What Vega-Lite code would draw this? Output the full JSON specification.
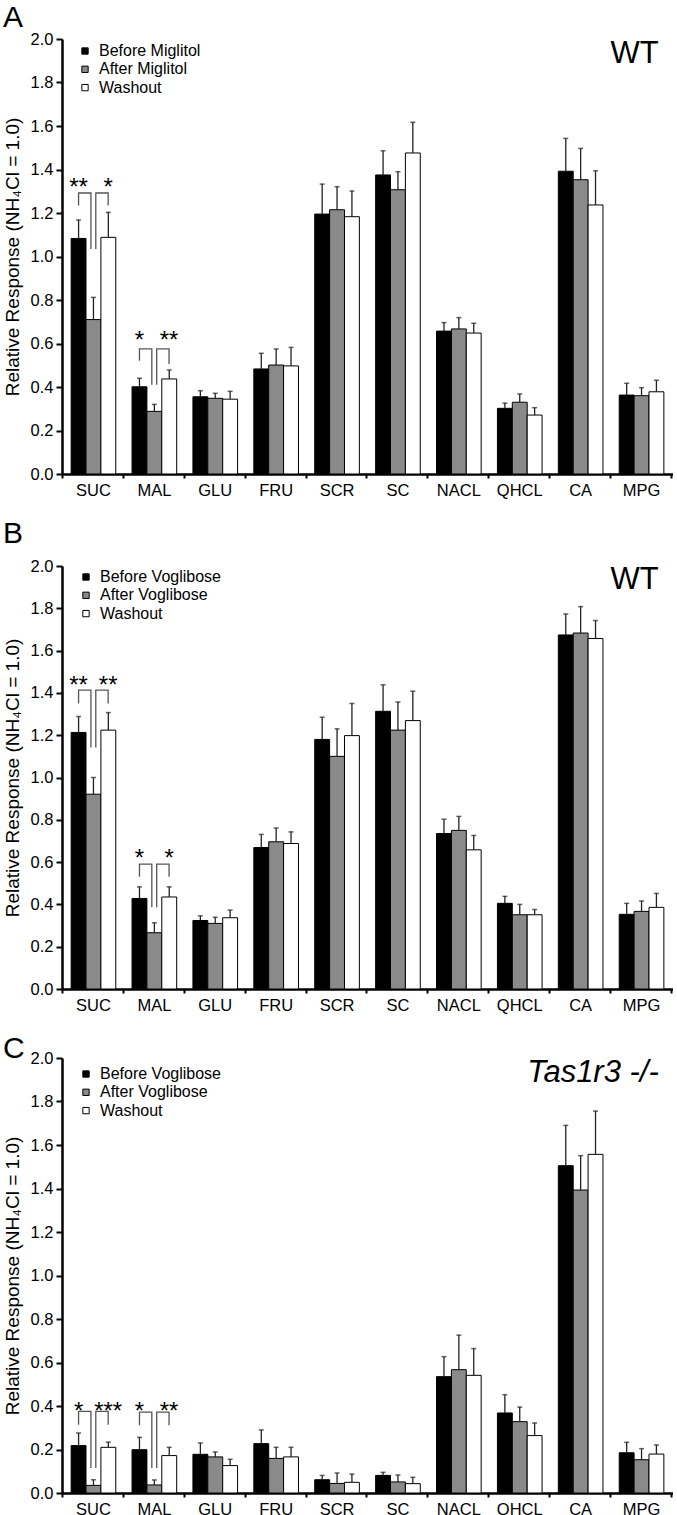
{
  "$schema": "https://vega.github.io/schema/vega-lite/v6.json",
  "padding": {"left": 3, "top": 3, "right": 0, "bottom": 0},
  "background": "white",
  "config": {
    "font": "Liberation Sans",
    "view": {"stroke": null},
    "axis": {"grid": false, "domainColor": "black", "tickColor": "black", "labelColor": "black", "titleColor": "black", "labelFontSize": 16.5, "titleFontWeight": "normal"},
    "axisY": {"tickSize": 6, "tickWidth": 2, "domainWidth": 2.5, "labelPadding": 3, "titleFontSize": 19, "titlePadding": 8, "format": ".1f"},
    "legend": {"orient": "none", "title": null, "symbolType": "square", "symbolSize": 40, "symbolStrokeColor": "black", "symbolStrokeWidth": 1, "labelFontSize": 16, "labelOffset": 6, "rowPadding": 2.3, "padding": 0, "labelColor": "black"},
    "title": {"fontSize": 30, "fontWeight": "normal", "anchor": "start", "frame": "group", "dx": -59, "color": "black"}
  },
  "datasets": {
    "A": [
      {"cat": "SUC", "cond": "Before", "label": "Before Miglitol", "v": 1.083, "hi": 1.168},
      {"cat": "SUC", "cond": "After", "label": "After Miglitol", "v": 0.71, "hi": 0.812},
      {"cat": "SUC", "cond": "Washout", "label": "Washout", "v": 1.088, "hi": 1.203},
      {"cat": "MAL", "cond": "Before", "label": "Before Miglitol", "v": 0.401, "hi": 0.44},
      {"cat": "MAL", "cond": "After", "label": "After Miglitol", "v": 0.288, "hi": 0.32},
      {"cat": "MAL", "cond": "Washout", "label": "Washout", "v": 0.437, "hi": 0.478},
      {"cat": "GLU", "cond": "Before", "label": "Before Miglitol", "v": 0.355, "hi": 0.383},
      {"cat": "GLU", "cond": "After", "label": "After Miglitol", "v": 0.348, "hi": 0.371},
      {"cat": "GLU", "cond": "Washout", "label": "Washout", "v": 0.344, "hi": 0.38},
      {"cat": "FRU", "cond": "Before", "label": "Before Miglitol", "v": 0.483, "hi": 0.555},
      {"cat": "FRU", "cond": "After", "label": "After Miglitol", "v": 0.501, "hi": 0.575},
      {"cat": "FRU", "cond": "Washout", "label": "Washout", "v": 0.497, "hi": 0.582},
      {"cat": "SCR", "cond": "Before", "label": "Before Miglitol", "v": 1.195, "hi": 1.333},
      {"cat": "SCR", "cond": "After", "label": "After Miglitol", "v": 1.215, "hi": 1.321},
      {"cat": "SCR", "cond": "Washout", "label": "Washout", "v": 1.183, "hi": 1.301},
      {"cat": "SC", "cond": "Before", "label": "Before Miglitol", "v": 1.375, "hi": 1.486},
      {"cat": "SC", "cond": "After", "label": "After Miglitol", "v": 1.307, "hi": 1.39},
      {"cat": "SC", "cond": "Washout", "label": "Washout", "v": 1.476, "hi": 1.617},
      {"cat": "NACL", "cond": "Before", "label": "Before Miglitol", "v": 0.657, "hi": 0.696},
      {"cat": "NACL", "cond": "After", "label": "After Miglitol", "v": 0.667, "hi": 0.719},
      {"cat": "NACL", "cond": "Washout", "label": "Washout", "v": 0.648, "hi": 0.693},
      {"cat": "QHCL", "cond": "Before", "label": "Before Miglitol", "v": 0.302, "hi": 0.326},
      {"cat": "QHCL", "cond": "After", "label": "After Miglitol", "v": 0.33, "hi": 0.368},
      {"cat": "QHCL", "cond": "Washout", "label": "Washout", "v": 0.271, "hi": 0.305},
      {"cat": "CA", "cond": "Before", "label": "Before Miglitol", "v": 1.392, "hi": 1.543},
      {"cat": "CA", "cond": "After", "label": "After Miglitol", "v": 1.353, "hi": 1.497},
      {"cat": "CA", "cond": "Washout", "label": "Washout", "v": 1.237, "hi": 1.394},
      {"cat": "MPG", "cond": "Before", "label": "Before Miglitol", "v": 0.363, "hi": 0.417},
      {"cat": "MPG", "cond": "After", "label": "After Miglitol", "v": 0.36, "hi": 0.397},
      {"cat": "MPG", "cond": "Washout", "label": "Washout", "v": 0.378, "hi": 0.431}
    ],
    "B": [
      {"cat": "SUC", "cond": "Before", "label": "Before Voglibose", "v": 1.213, "hi": 1.288},
      {"cat": "SUC", "cond": "After", "label": "After Voglibose", "v": 0.921, "hi": 1.0},
      {"cat": "SUC", "cond": "Washout", "label": "Washout", "v": 1.224, "hi": 1.307},
      {"cat": "MAL", "cond": "Before", "label": "Before Voglibose", "v": 0.428, "hi": 0.483},
      {"cat": "MAL", "cond": "After", "label": "After Voglibose", "v": 0.266, "hi": 0.313},
      {"cat": "MAL", "cond": "Washout", "label": "Washout", "v": 0.435, "hi": 0.483},
      {"cat": "GLU", "cond": "Before", "label": "Before Voglibose", "v": 0.324, "hi": 0.346},
      {"cat": "GLU", "cond": "After", "label": "After Voglibose", "v": 0.31, "hi": 0.339},
      {"cat": "GLU", "cond": "Washout", "label": "Washout", "v": 0.337, "hi": 0.373},
      {"cat": "FRU", "cond": "Before", "label": "Before Voglibose", "v": 0.669, "hi": 0.731},
      {"cat": "FRU", "cond": "After", "label": "After Voglibose", "v": 0.696, "hi": 0.761},
      {"cat": "FRU", "cond": "Washout", "label": "Washout", "v": 0.688, "hi": 0.743},
      {"cat": "SCR", "cond": "Before", "label": "Before Voglibose", "v": 1.18, "hi": 1.285},
      {"cat": "SCR", "cond": "After", "label": "After Voglibose", "v": 1.1, "hi": 1.23},
      {"cat": "SCR", "cond": "Washout", "label": "Washout", "v": 1.198, "hi": 1.35},
      {"cat": "SC", "cond": "Before", "label": "Before Voglibose", "v": 1.313, "hi": 1.438},
      {"cat": "SC", "cond": "After", "label": "After Voglibose", "v": 1.224, "hi": 1.357},
      {"cat": "SC", "cond": "Washout", "label": "Washout", "v": 1.269, "hi": 1.408},
      {"cat": "NACL", "cond": "Before", "label": "Before Voglibose", "v": 0.735, "hi": 0.803},
      {"cat": "NACL", "cond": "After", "label": "After Voglibose", "v": 0.75, "hi": 0.816},
      {"cat": "NACL", "cond": "Washout", "label": "Washout", "v": 0.658, "hi": 0.726},
      {"cat": "QHCL", "cond": "Before", "label": "Before Voglibose", "v": 0.405, "hi": 0.438},
      {"cat": "QHCL", "cond": "After", "label": "After Voglibose", "v": 0.351, "hi": 0.4},
      {"cat": "QHCL", "cond": "Washout", "label": "Washout", "v": 0.351, "hi": 0.376},
      {"cat": "CA", "cond": "Before", "label": "Before Voglibose", "v": 1.674, "hi": 1.773},
      {"cat": "CA", "cond": "After", "label": "After Voglibose", "v": 1.683, "hi": 1.808},
      {"cat": "CA", "cond": "Washout", "label": "Washout", "v": 1.657, "hi": 1.742},
      {"cat": "MPG", "cond": "Before", "label": "Before Voglibose", "v": 0.353, "hi": 0.405},
      {"cat": "MPG", "cond": "After", "label": "After Voglibose", "v": 0.367, "hi": 0.416},
      {"cat": "MPG", "cond": "Washout", "label": "Washout", "v": 0.386, "hi": 0.452}
    ],
    "C": [
      {"cat": "SUC", "cond": "Before", "label": "Before Voglibose", "v": 0.218, "hi": 0.276},
      {"cat": "SUC", "cond": "After", "label": "After Voglibose", "v": 0.035, "hi": 0.061},
      {"cat": "SUC", "cond": "Washout", "label": "Washout", "v": 0.21, "hi": 0.234},
      {"cat": "MAL", "cond": "Before", "label": "Before Voglibose", "v": 0.199, "hi": 0.256},
      {"cat": "MAL", "cond": "After", "label": "After Voglibose", "v": 0.037, "hi": 0.06},
      {"cat": "MAL", "cond": "Washout", "label": "Washout", "v": 0.172, "hi": 0.21},
      {"cat": "GLU", "cond": "Before", "label": "Before Voglibose", "v": 0.178, "hi": 0.23},
      {"cat": "GLU", "cond": "After", "label": "After Voglibose", "v": 0.166, "hi": 0.189},
      {"cat": "GLU", "cond": "Washout", "label": "Washout", "v": 0.126, "hi": 0.155},
      {"cat": "FRU", "cond": "Before", "label": "Before Voglibose", "v": 0.227, "hi": 0.29},
      {"cat": "FRU", "cond": "After", "label": "After Voglibose", "v": 0.159, "hi": 0.21},
      {"cat": "FRU", "cond": "Washout", "label": "Washout", "v": 0.166, "hi": 0.21},
      {"cat": "SCR", "cond": "Before", "label": "Before Voglibose", "v": 0.061, "hi": 0.081},
      {"cat": "SCR", "cond": "After", "label": "After Voglibose", "v": 0.044, "hi": 0.092},
      {"cat": "SCR", "cond": "Washout", "label": "Washout", "v": 0.049, "hi": 0.087},
      {"cat": "SC", "cond": "Before", "label": "Before Voglibose", "v": 0.081, "hi": 0.095},
      {"cat": "SC", "cond": "After", "label": "After Voglibose", "v": 0.051, "hi": 0.083},
      {"cat": "SC", "cond": "Washout", "label": "Washout", "v": 0.043, "hi": 0.072},
      {"cat": "NACL", "cond": "Before", "label": "Before Voglibose", "v": 0.535, "hi": 0.627},
      {"cat": "NACL", "cond": "After", "label": "After Voglibose", "v": 0.567, "hi": 0.726},
      {"cat": "NACL", "cond": "Washout", "label": "Washout", "v": 0.541, "hi": 0.664},
      {"cat": "QHCL", "cond": "Before", "label": "Before Voglibose", "v": 0.368, "hi": 0.452},
      {"cat": "QHCL", "cond": "After", "label": "After Voglibose", "v": 0.328, "hi": 0.395},
      {"cat": "QHCL", "cond": "Washout", "label": "Washout", "v": 0.264, "hi": 0.322},
      {"cat": "CA", "cond": "Before", "label": "Before Voglibose", "v": 1.505, "hi": 1.69},
      {"cat": "CA", "cond": "After", "label": "After Voglibose", "v": 1.393, "hi": 1.551},
      {"cat": "CA", "cond": "Washout", "label": "Washout", "v": 1.557, "hi": 1.756},
      {"cat": "MPG", "cond": "Before", "label": "Before Voglibose", "v": 0.185, "hi": 0.233},
      {"cat": "MPG", "cond": "After", "label": "After Voglibose", "v": 0.153, "hi": 0.204},
      {"cat": "MPG", "cond": "Washout", "label": "Washout", "v": 0.179, "hi": 0.221}
    ],
    "brA": [
      {"b": 1, "k": 1, "x": 0.272, "y": 1.234}, {"b": 1, "k": 2, "x": 0.272, "y": 1.292}, {"b": 1, "k": 3, "x": 0.475, "y": 1.292}, {"b": 1, "k": 4, "x": 0.475, "y": 1.034},
      {"b": 2, "k": 1, "x": 0.555, "y": 1.034}, {"b": 2, "k": 2, "x": 0.555, "y": 1.292}, {"b": 2, "k": 3, "x": 0.758, "y": 1.292}, {"b": 2, "k": 4, "x": 0.758, "y": 1.234},
      {"b": 3, "k": 1, "x": 1.272, "y": 0.521}, {"b": 3, "k": 2, "x": 1.272, "y": 0.575}, {"b": 3, "k": 3, "x": 1.475, "y": 0.575}, {"b": 3, "k": 4, "x": 1.475, "y": 0.41},
      {"b": 4, "k": 1, "x": 1.555, "y": 0.41}, {"b": 4, "k": 2, "x": 1.555, "y": 0.575}, {"b": 4, "k": 3, "x": 1.758, "y": 0.575}, {"b": 4, "k": 4, "x": 1.758, "y": 0.506}
    ],
    "brB": [
      {"b": 1, "k": 1, "x": 0.272, "y": 1.35}, {"b": 1, "k": 2, "x": 0.272, "y": 1.413}, {"b": 1, "k": 3, "x": 0.475, "y": 1.413}, {"b": 1, "k": 4, "x": 0.475, "y": 1.142},
      {"b": 2, "k": 1, "x": 0.555, "y": 1.142}, {"b": 2, "k": 2, "x": 0.555, "y": 1.413}, {"b": 2, "k": 3, "x": 0.758, "y": 1.413}, {"b": 2, "k": 4, "x": 0.758, "y": 1.35},
      {"b": 3, "k": 1, "x": 1.272, "y": 0.531}, {"b": 3, "k": 2, "x": 1.272, "y": 0.59}, {"b": 3, "k": 3, "x": 1.475, "y": 0.59}, {"b": 3, "k": 4, "x": 1.475, "y": 0.386},
      {"b": 4, "k": 1, "x": 1.555, "y": 0.386}, {"b": 4, "k": 2, "x": 1.555, "y": 0.59}, {"b": 4, "k": 3, "x": 1.758, "y": 0.59}, {"b": 4, "k": 4, "x": 1.758, "y": 0.531}
    ],
    "brC": [
      {"b": 1, "k": 1, "x": 0.272, "y": 0.314}, {"b": 1, "k": 2, "x": 0.272, "y": 0.375}, {"b": 1, "k": 3, "x": 0.475, "y": 0.375}, {"b": 1, "k": 4, "x": 0.475, "y": 0.115},
      {"b": 2, "k": 1, "x": 0.555, "y": 0.115}, {"b": 2, "k": 2, "x": 0.555, "y": 0.375}, {"b": 2, "k": 3, "x": 0.758, "y": 0.375}, {"b": 2, "k": 4, "x": 0.758, "y": 0.314},
      {"b": 3, "k": 1, "x": 1.272, "y": 0.311}, {"b": 3, "k": 2, "x": 1.272, "y": 0.372}, {"b": 3, "k": 3, "x": 1.475, "y": 0.372}, {"b": 3, "k": 4, "x": 1.475, "y": 0.115},
      {"b": 4, "k": 1, "x": 1.555, "y": 0.115}, {"b": 4, "k": 2, "x": 1.555, "y": 0.372}, {"b": 4, "k": 3, "x": 1.758, "y": 0.372}, {"b": 4, "k": 4, "x": 1.758, "y": 0.311}
    ],
    "stA": [
      {"t": "**", "x": 0.272, "y": 1.317}, {"t": "*", "x": 0.758, "y": 1.317},
      {"t": "*", "x": 1.272, "y": 0.612}, {"t": "**", "x": 1.758, "y": 0.612}
    ],
    "stB": [
      {"t": "**", "x": 0.272, "y": 1.432}, {"t": "**", "x": 0.758, "y": 1.432},
      {"t": "*", "x": 1.272, "y": 0.613}, {"t": "*", "x": 1.758, "y": 0.613}
    ],
    "stC": [
      {"t": "*", "x": 0.272, "y": 0.374}, {"t": "***", "x": 0.758, "y": 0.374},
      {"t": "*", "x": 1.272, "y": 0.374}, {"t": "**", "x": 1.758, "y": 0.374}
    ],
    "lbA": [{"t": "WT", "x": 9.8, "y": 1.89}],
    "lbB": [{"t": "WT", "x": 9.8, "y": 1.89}],
    "lbC": [{"t": "Tas1r3 -/-", "x": 9.8, "y": 1.89}]
  },
  "vconcat": [
    {
      "title": {"text": "A", "offset": -2},
      "width": 611, "height": 435,
      "resolve": {"scale": {"x": "independent"}},
      "layer": [
        {
          "data": {"name": "A"},
          "encoding": {
            "x": {"field": "cat", "type": "nominal", "sort": null, "scale": {"paddingInner": 0.267, "paddingOuter": 0.15}, "axis": {"title": null, "orient": "bottom", "labelAngle": 0, "ticks": false, "tickSize": 0, "labelPadding": 8, "domainWidth": 2.5}},
            "xOffset": {"field": "cond", "type": "nominal", "scale": {"domain": ["Before", "After", "Washout"]}},
            "y": {"field": "v", "type": "quantitative", "title": "Relative Response (NH₄Cl = 1.0)", "scale": {"domain": [0, 2], "nice": false}, "axis": {"values": [0, 0.2, 0.4, 0.6, 0.8, 1, 1.2, 1.4, 1.6, 1.8, 2]}}
          },
          "layer": [
            {"mark": {"type": "bar", "stroke": "black", "strokeWidth": 1},
             "encoding": {"color": {"field": "label", "type": "nominal", "scale": {"domain": ["Before Miglitol", "After Miglitol", "Washout"], "range": ["#000000", "#8a8a8a", "#ffffff"]}, "legend": {"legendX": 15, "legendY": 4}}}},
            {"mark": {"type": "rule", "color": "#222222", "strokeWidth": 1.3}, "encoding": {"y2": {"field": "hi"}}},
            {"mark": {"type": "tick", "color": "#222222", "size": 5, "thickness": 1.5}, "encoding": {"y": {"field": "hi", "type": "quantitative", "title": "Relative Response (NH₄Cl = 1.0)"}}}
          ]
        },
        {
          "encoding": {
            "x": {"field": "x", "type": "quantitative", "scale": {"domain": [0, 10.033], "nice": false, "zero": false}, "axis": {"orient": "bottom", "title": null, "values": [0, 1, 2, 3, 4, 5, 6, 7, 8, 9, 10], "labels": false, "domain": false, "tickSize": 4, "tickWidth": 2}},
            "y": {"field": "y", "type": "quantitative", "title": "Relative Response (NH₄Cl = 1.0)", "axis": {"values": [0, 0.2, 0.4, 0.6, 0.8, 1, 1.2, 1.4, 1.6, 1.8, 2]}}
          },
          "layer": [
            {"data": {"name": "brA"}, "mark": {"type": "line", "color": "#555555", "strokeWidth": 1.3}, "encoding": {"detail": {"field": "b"}, "order": {"field": "k"}}},
            {"data": {"name": "stA"}, "mark": {"type": "text", "fontSize": 24, "baseline": "middle", "align": "center", "color": "black"}, "encoding": {"text": {"field": "t"}}},
            {"data": {"name": "lbA"}, "mark": {"type": "text", "fontSize": 31, "baseline": "alphabetic", "align": "right", "color": "black"}, "encoding": {"text": {"field": "t"}}}
          ]
        }
      ]
    },
    {
      "title": {"text": "B", "offset": 9},
      "width": 611, "height": 423,
      "resolve": {"scale": {"x": "independent"}},
      "layer": [
        {
          "data": {"name": "B"},
          "encoding": {
            "x": {"field": "cat", "type": "nominal", "sort": null, "scale": {"paddingInner": 0.267, "paddingOuter": 0.15}, "axis": {"title": null, "orient": "bottom", "labelAngle": 0, "ticks": false, "tickSize": 0, "labelPadding": 8, "domainWidth": 2.5}},
            "xOffset": {"field": "cond", "type": "nominal", "scale": {"domain": ["Before", "After", "Washout"]}},
            "y": {"field": "v", "type": "quantitative", "title": "Relative Response (NH₄Cl = 1.0)", "scale": {"domain": [0, 2], "nice": false}, "axis": {"values": [0, 0.2, 0.4, 0.6, 0.8, 1, 1.2, 1.4, 1.6, 1.8, 2]}}
          },
          "layer": [
            {"mark": {"type": "bar", "stroke": "black", "strokeWidth": 1},
             "encoding": {"color": {"field": "label", "type": "nominal", "scale": {"domain": ["Before Voglibose", "After Voglibose", "Washout"], "range": ["#000000", "#8a8a8a", "#ffffff"]}, "legend": {"legendX": 16, "legendY": 3}}}},
            {"mark": {"type": "rule", "color": "#222222", "strokeWidth": 1.3}, "encoding": {"y2": {"field": "hi"}}},
            {"mark": {"type": "tick", "color": "#222222", "size": 5, "thickness": 1.5}, "encoding": {"y": {"field": "hi", "type": "quantitative", "title": "Relative Response (NH₄Cl = 1.0)"}}}
          ]
        },
        {
          "encoding": {
            "x": {"field": "x", "type": "quantitative", "scale": {"domain": [0, 10.033], "nice": false, "zero": false}, "axis": {"orient": "bottom", "title": null, "values": [0, 1, 2, 3, 4, 5, 6, 7, 8, 9, 10], "labels": false, "domain": false, "tickSize": 4, "tickWidth": 2}},
            "y": {"field": "y", "type": "quantitative", "title": "Relative Response (NH₄Cl = 1.0)", "axis": {"values": [0, 0.2, 0.4, 0.6, 0.8, 1, 1.2, 1.4, 1.6, 1.8, 2]}}
          },
          "layer": [
            {"data": {"name": "brB"}, "mark": {"type": "line", "color": "#555555", "strokeWidth": 1.3}, "encoding": {"detail": {"field": "b"}, "order": {"field": "k"}}},
            {"data": {"name": "stB"}, "mark": {"type": "text", "fontSize": 24, "baseline": "middle", "align": "center", "color": "black"}, "encoding": {"text": {"field": "t"}}},
            {"data": {"name": "lbB"}, "mark": {"type": "text", "fontSize": 31, "baseline": "alphabetic", "align": "right", "color": "black"}, "encoding": {"text": {"field": "t"}}}
          ]
        }
      ]
    },
    {
      "title": {"text": "C", "offset": -14},
      "width": 611, "height": 435,
      "resolve": {"scale": {"x": "independent"}},
      "layer": [
        {
          "data": {"name": "C"},
          "encoding": {
            "x": {"field": "cat", "type": "nominal", "sort": null, "scale": {"paddingInner": 0.267, "paddingOuter": 0.15}, "axis": {"title": null, "orient": "bottom", "labelAngle": 0, "ticks": false, "tickSize": 0, "labelPadding": 8, "domainWidth": 2.5}},
            "xOffset": {"field": "cond", "type": "nominal", "scale": {"domain": ["Before", "After", "Washout"]}},
            "y": {"field": "v", "type": "quantitative", "title": "Relative Response (NH₄Cl = 1.0)", "scale": {"domain": [0, 2], "nice": false}, "axis": {"values": [0, 0.2, 0.4, 0.6, 0.8, 1, 1.2, 1.4, 1.6, 1.8, 2]}}
          },
          "layer": [
            {"mark": {"type": "bar", "stroke": "black", "strokeWidth": 1},
             "encoding": {"color": {"field": "label", "type": "nominal", "scale": {"domain": ["Before Voglibose", "After Voglibose", "Washout"], "range": ["#000000", "#8a8a8a", "#ffffff"]}, "legend": {"legendX": 16, "legendY": 8}}}},
            {"mark": {"type": "rule", "color": "#222222", "strokeWidth": 1.3}, "encoding": {"y2": {"field": "hi"}}},
            {"mark": {"type": "tick", "color": "#222222", "size": 5, "thickness": 1.5}, "encoding": {"y": {"field": "hi", "type": "quantitative", "title": "Relative Response (NH₄Cl = 1.0)"}}}
          ]
        },
        {
          "encoding": {
            "x": {"field": "x", "type": "quantitative", "scale": {"domain": [0, 10.033], "nice": false, "zero": false}, "axis": {"orient": "bottom", "title": null, "values": [0, 1, 2, 3, 4, 5, 6, 7, 8, 9, 10], "labels": false, "domain": false, "tickSize": 4, "tickWidth": 2}},
            "y": {"field": "y", "type": "quantitative", "title": "Relative Response (NH₄Cl = 1.0)", "axis": {"values": [0, 0.2, 0.4, 0.6, 0.8, 1, 1.2, 1.4, 1.6, 1.8, 2]}}
          },
          "layer": [
            {"data": {"name": "brC"}, "mark": {"type": "line", "color": "#555555", "strokeWidth": 1.3}, "encoding": {"detail": {"field": "b"}, "order": {"field": "k"}}},
            {"data": {"name": "stC"}, "mark": {"type": "text", "fontSize": 24, "baseline": "middle", "align": "center", "color": "black"}, "encoding": {"text": {"field": "t"}}},
            {"data": {"name": "lbC"}, "mark": {"type": "text", "fontSize": 31, "baseline": "alphabetic", "align": "right", "color": "black", "fontStyle": "italic"}, "encoding": {"text": {"field": "t"}}}
          ]
        }
      ]
    }
  ],
  "spacing": 20,
  "resolve": {"scale": {"color": "independent", "x": "independent", "xOffset": "independent"}, "legend": {"color": "independent"}}
}
